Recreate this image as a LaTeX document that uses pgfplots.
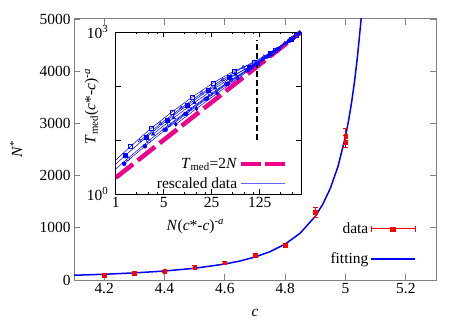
\documentclass[border=0pt]{standalone}
\usepackage{pgfplots}
\pgfplotsset{compat=1.18}
\usepackage{fontspec}
\setmainfont{Liberation Serif}
\begin{document}
\begin{tikzpicture}[font=\fontsize{15.5}{18}\selectfont]
\path[use as bounding box] (-74bp,-44bp) rectangle (389bp,280bp);
\begin{axis}[
  at={(0,0)}, anchor=south west,
  width=362bp, height=261bp, scale only axis,
  xmin=4.1, xmax=5.3, ymin=0, ymax=5000,
  xtick={4.2,4.4,4.6,4.8,5,5.2},
  xticklabels={4.2,4.4,4.6,4.8,5,5.2},
  ytick={0,1000,2000,3000,4000,5000},
  yticklabels={0,1000,2000,3000,4000,5000},
  minor tick num=0,
  tick align=inside, major tick length=6bp,
  axis line style={gray, line width=1bp},
  tick style={gray, line width=0.8bp},
  every axis x label/.style={at={(axis description cs:0.5,-0.126)}, anchor=center},
  every axis y label/.style={at={(axis description cs:-0.16,0.5)}, anchor=center, rotate=90},
  xlabel={\textit{c}},
  ylabel={\textit{N}\textsuperscript{*}},
  legend style={draw=none, fill=none, at={(0.953,0.04)}, anchor=south east, row sep=14bp},
  legend plot pos=right, legend cell align=right,
]
\addplot[blue, line width=1.5bp, forget plot] coordinates {
(4.1,90.9) (4.2,110) (4.3,135.8) (4.4,171.9) (4.5,224.5) (4.6,305.6) (4.65,363.6)
(4.7,440) (4.75,543.2) (4.8,687.5) (4.85,898) (4.9,1222) (4.925,1454.5) (4.95,1760)
(4.975,2173) (5.0,2750) (5.01,3047) (5.02,3395) (5.03,3806) (5.04,4297) (5.05,4889)
(5.055,5232) (5.06,5612)};
\addplot[red, only marks, mark=square*, mark size=1.8bp, forget plot,
  error bars/.cd, y dir=both, y explicit,
  error bar style={red, line width=1bp},
  error mark options={rotate=90, mark size=2.5bp, red, line width=1bp}]
coordinates {
(4.2,96) +- (0,15)
(4.3,134) +- (0,15)
(4.4,166) +- (0,18)
(4.5,249) +- (0,20)
(4.6,332) +- (0,25)
(4.7,479) +- (0,30)
(4.8,658) +- (0,35)
(4.9,1297) +- (0,96)
(5.0,2650) +- (0,110)
(5.0,2750) +- (0,150)
};
\addlegendimage{legend image code/.code={
  \draw[red,line width=1bp] (0bp,0bp) -- (44bp,0bp);
  \draw[red,line width=1bp] (0bp,-3bp)--(0bp,3bp) (44bp,-3bp)--(44bp,3bp);
  \fill[red] (19.5bp,-2.2bp) rectangle (24bp,2.2bp);
}}
\addlegendentry{\makebox[60bp][r]{data}\hspace{8bp}}
\addlegendimage{legend image code/.code={
  \draw[blue,line width=1.5bp] (0bp,0bp) -- (44bp,0bp);
}}
\addlegendentry{\makebox[60bp][r]{fitting}\hspace{8bp}}
\end{axis}

\begin{axis}[
  at={(41.7bp,86bp)}, anchor=south west,
  width=185.3bp, height=162bp, scale only axis,
  xmode=log, ymode=log, xmin=1, xmax=500, ymin=1, ymax=1000,
  axis background/.style={fill=white},
  xtick={1,5,25,125}, xticklabels={1,5,25,125},
  minor xtick={2,3,4,10,15,20,50,75,100,250,375},
  ytick={1,10,100,1000},
  yticklabels={10\textsuperscript{0},,,10\textsuperscript{3}},
  yticklabel style={xshift=-4bp},
  minor y tick style={draw=none},
  tick align=inside, major tick length=5bp, minor tick length=2.5bp,
  axis line style={black, line width=0.8bp},
  tick style={black, line width=0.6bp},
  every axis x label/.style={at={(axis description cs:0.43,-0.2)}, anchor=center},
  every axis y label/.style={at={(axis description cs:-0.13,0.54)}, anchor=center, rotate=90},
  xlabel={\textit{N}(\textit{c}*-\textit{c})\textsuperscript{-\textit{a}}},
  ylabel={\textit{T}\textsubscript{med}(\textit{c}*-\textit{c})\textsuperscript{-\textit{a}}},
  legend style={draw=none, fill=none, at={(0.945,0.0)}, anchor=south east, row sep=4bp},
  legend plot pos=right, legend cell align=right,
  every axis plot/.append style={blue, line width=0.5bp, mark size=2bp, mark options={solid, line width=0.5bp}},
]
\addplot[magenta, line width=4.5bp, dash pattern=on 22bp off 6bp, forget plot] coordinates {(1,2) (500,1000)};
\addplot[black, line width=1.5bp, dash pattern=on 6bp off 3bp, forget plot] coordinates {(115,10) (115,700)};
\addplot[mark=square, forget plot] coordinates {(0.82,3.35) (1.65,7.66) (3.3,16.57) (6.6,33.13) (13.2,63.1) (26.4,114.6) (52.8,190) (105.6,270) (211,460) (422,877.8)};
\addplot[mark=square*, forget plot] coordinates {(0.7,2.38) (1.4,5.25) (2.8,11.37) (5.6,23.18) (11.2,44.8) (22.4,83.3) (44.8,145) (89.6,225) (179,400) (358,744.6)};
\addplot[mark=o, forget plot] coordinates {(0.75,2.12) (1.5,4.53) (3,9.6) (6,19.32) (12,37.44) (24,71.04) (48,130.6) (96,225) (192,410.9) (384,783.4)};
\addplot[mark=*, forget plot] coordinates {(1.33,3.64) (2.66,7.66) (5.32,15.53) (10.6,30.3) (21.3,58.6) (42.6,109.9) (85,198.9) (170,362.4) (340,693.6)};
\addplot[mark=triangle, forget plot] coordinates {(2.25,9.63) (4.5,20.07) (9,39.24) (18,73.8) (36,131.8) (72,221.8) (144,351.4) (288,616.3) (481,981.2)};
\addplot[mark=triangle*, forget plot] coordinates {(3.5,12.88) (7,25.62) (14,49.28) (28,91.28) (56,162.4) (112,271) (224,482.5) (448,913.9)};
\addplot[mark=diamond, forget plot] coordinates {(5,15.4) (10,30.2) (20,57.6) (40,108) (80,193.6) (160,346.9) (320,656.6)};
\addplot[mark=diamond*, forget plot] coordinates {(7.5,19.5) (15,38.1) (30,73.2) (60,139.2) (120,256.8) (240,491.5) (480,965.8)};
\addlegendimage{legend image code/.code={
  \draw[magenta, line width=4.5bp, dash pattern=on 20bp off 4bp] (0bp,0bp) -- (44bp,0bp);
}}
\addlegendentry{\makebox[90bp][r]{\textit{T}\textsubscript{med}=2\textit{N}}\hspace{3bp}}
\addlegendimage{legend image code/.code={
  \draw[blue!60, line width=1bp] (0bp,0bp) -- (44bp,0bp);
}}
\addlegendentry{\makebox[90bp][r]{rescaled data}\hspace{3bp}}
\end{axis}
\end{tikzpicture}
\end{document}
